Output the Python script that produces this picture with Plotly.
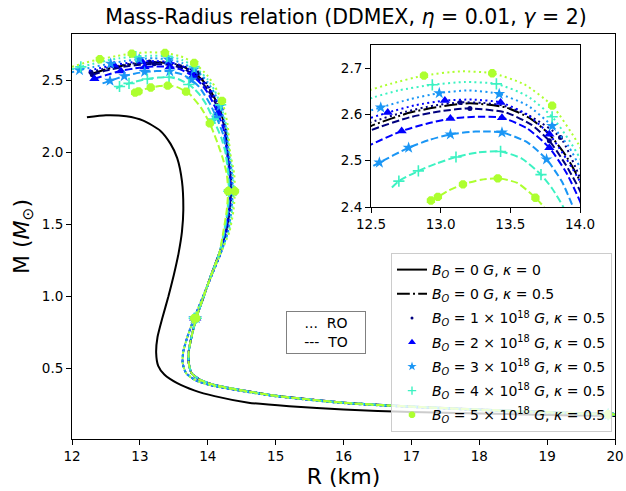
import plotly.graph_objects as go

# ---------------- data ----------------
# B_O = 0, kappa = 0 (black solid)
R_B0_k0 = [12.22, 12.50, 12.80, 13.05, 13.30, 13.45, 13.55, 13.62, 13.64, 13.62, 13.57, 13.50, 13.42,
           13.33, 13.26, 13.24, 13.27, 13.36, 13.55, 13.80, 14.10, 14.60, 15.20, 16.00, 17.00, 18.00,
           19.00, 20.00, 20.30]
M_B0_k0 = [2.243, 2.257, 2.250, 2.220, 2.150, 2.060, 1.960, 1.800, 1.600, 1.450, 1.300, 1.150, 1.000,
           0.850, 0.720, 0.610, 0.520, 0.460, 0.400, 0.350, 0.310, 0.265, 0.240, 0.217, 0.200, 0.190,
           0.180, 0.172, 0.170]

# B_O = 0, kappa = 0.5 (black dash-dot), upper part
R_B0_k05 = [12.31, 12.50, 12.78, 13.00, 13.21, 13.47, 13.65, 13.78, 13.90, 14.00, 14.09, 14.17, 14.26,
            14.29, 14.33, 14.34, 14.32, 14.27]
M_B0_k05 = [2.546, 2.575, 2.604, 2.617, 2.624, 2.615, 2.590, 2.557, 2.510, 2.456, 2.385, 2.305, 2.170,
            2.000, 1.850, 1.730, 1.600, 1.450]

# B_O = 1e18 (navy)
R_B1_RO = [12.28, 12.50, 12.75, 12.95, 13.14, 13.30, 13.45, 13.65, 13.86, 14.00, 14.09, 14.17, 14.26,
           14.30, 14.34, 14.35, 14.33, 14.28]
M_B1_RO = [2.555, 2.583, 2.606, 2.619, 2.626, 2.625, 2.619, 2.595, 2.550, 2.463, 2.390, 2.310, 2.170,
           2.000, 1.850, 1.730, 1.600, 1.450]
R_B1_TO = [12.30, 12.50, 12.78, 13.00, 13.21, 13.47, 13.65, 13.78, 13.90, 14.00, 14.08, 14.16, 14.25,
           14.29, 14.33, 14.34, 14.32, 14.27]
M_B1_TO = [2.538, 2.566, 2.594, 2.607, 2.613, 2.604, 2.578, 2.543, 2.490, 2.435, 2.370, 2.295, 2.170,
           2.000, 1.850, 1.730, 1.600, 1.450]

# B_O = 2e18 (blue)
R_B2_RO = [12.25, 12.40, 12.62, 12.82, 13.03, 13.23, 13.43, 13.62, 13.78, 13.90, 14.00, 14.09, 14.17,
           14.26, 14.30, 14.35, 14.36, 14.34, 14.29]
M_B2_RO = [2.565, 2.583, 2.604, 2.620, 2.630, 2.632, 2.626, 2.600, 2.557, 2.505, 2.455, 2.390, 2.310,
           2.170, 2.000, 1.850, 1.730, 1.600, 1.450]
R_B2_TO = [12.33, 12.50, 12.72, 12.90, 13.07, 13.25, 13.44, 13.62, 13.78, 13.90, 14.00, 14.07, 14.15,
           14.24, 14.28, 14.32, 14.33, 14.31, 14.26]
M_B2_TO = [2.510, 2.535, 2.564, 2.580, 2.591, 2.595, 2.593, 2.570, 2.528, 2.475, 2.412, 2.350, 2.270,
           2.150, 2.000, 1.850, 1.730, 1.600, 1.450]

# B_O = 3e18 (sky blue)
R_B3_RO = [12.00, 12.11, 12.30, 12.57, 12.78, 12.99, 13.20, 13.42, 13.62, 13.80, 13.92, 14.00, 14.10,
           14.18, 14.27, 14.31, 14.36, 14.37, 14.35, 14.30]
M_B3_RO = [2.555, 2.569, 2.590, 2.615, 2.633, 2.646, 2.652, 2.644, 2.620, 2.575, 2.530, 2.485, 2.410,
           2.320, 2.170, 2.000, 1.850, 1.730, 1.600, 1.450]
R_B3_TO = [12.45, 12.56, 12.77, 12.92, 13.07, 13.25, 13.44, 13.62, 13.76, 13.87, 13.95, 14.04, 14.13,
           14.23, 14.27, 14.31, 14.32, 14.30, 14.25]
M_B3_TO = [2.478, 2.496, 2.528, 2.545, 2.557, 2.563, 2.561, 2.540, 2.503, 2.455, 2.400, 2.330, 2.240,
           2.120, 2.000, 1.850, 1.730, 1.600, 1.450]

# B_O = 4e18 (aquamarine)
R_B4_RO = [12.00, 12.13, 12.30, 12.52, 12.70, 12.94, 13.17, 13.40, 13.62, 13.80, 13.92, 14.00, 14.10,
           14.19, 14.28, 14.32, 14.37, 14.38, 14.36, 14.31]
M_B4_RO = [2.575, 2.592, 2.612, 2.637, 2.652, 2.664, 2.670, 2.666, 2.640, 2.595, 2.545, 2.505, 2.430,
           2.330, 2.170, 2.000, 1.850, 1.730, 1.600, 1.450]
R_B4_TO = [12.65, 12.70, 12.84, 12.97, 13.11, 13.27, 13.43, 13.58, 13.72, 13.80, 13.88, 13.98, 14.08,
           14.20, 14.26, 14.30, 14.31, 14.29, 14.24]
M_B4_TO = [2.442, 2.456, 2.478, 2.494, 2.508, 2.518, 2.520, 2.505, 2.470, 2.440, 2.400, 2.330, 2.230,
           2.100, 2.000, 1.850, 1.730, 1.600, 1.450]

# B_O = 5e18 (green-yellow)
R_B5_RO = [12.00, 12.20, 12.41, 12.65, 12.88, 13.14, 13.37, 13.60, 13.80, 13.99, 14.10, 14.21, 14.29,
           14.33, 14.39, 14.40, 14.38, 14.32]
M_B5_RO = [2.592, 2.622, 2.645, 2.667, 2.684, 2.693, 2.689, 2.665, 2.619, 2.535, 2.460, 2.357, 2.200,
           2.000, 1.850, 1.730, 1.600, 1.450]
R_B5_TO = [12.93, 12.98, 13.06, 13.16, 13.29, 13.41, 13.55, 13.68, 13.74, 13.90, 14.03, 14.14, 14.22,
           14.28, 14.30, 14.28, 14.23]
M_B5_TO = [2.414, 2.422, 2.436, 2.449, 2.459, 2.462, 2.452, 2.420, 2.400, 2.310, 2.200, 2.070, 1.960,
           1.850, 1.730, 1.600, 1.450]

# lower branches shared by the RO and TO families
R_tail_RO = [14.19, 14.06, 13.93, 13.80, 13.70, 13.64, 13.63, 13.68, 13.82, 14.05, 14.45, 15.00, 16.00,
             17.00, 18.00, 19.00, 19.90, 20.30]
M_tail_RO = [1.300, 1.150, 1.000, 0.850, 0.720, 0.620, 0.540, 0.470, 0.420, 0.385, 0.350, 0.310, 0.262,
             0.235, 0.214, 0.196, 0.182, 0.176]
R_tail_TO = [14.17, 14.05, 13.94, 13.83, 13.76, 13.72, 13.72, 13.76, 13.88, 14.08, 14.45, 15.00, 16.00,
             17.00, 18.00, 19.00, 19.90, 20.30]
M_tail_TO = [1.300, 1.150, 1.000, 0.850, 0.720, 0.620, 0.540, 0.470, 0.425, 0.390, 0.355, 0.313, 0.265,
             0.238, 0.217, 0.199, 0.185, 0.179]
tail_marks = [3, 16]

# marker positions (indices into the upper parts)
marks = {
    "B1_RO": [0, 4, 8, 11, 15], "B1_TO": [0, 4, 7, 11, 15],
    "B2_RO": [2, 4, 6, 8, 12, 16], "B2_TO": [0, 2, 4, 6, 8, 12, 16],
    "B3_RO": [1, 3, 5, 7, 9, 13, 17], "B3_TO": [1, 2, 4, 6, 8, 12, 16],
    "B4_RO": [1, 5, 7, 9, 13, 17], "B4_TO": [1, 2, 4, 6, 8, 12, 16],
    "B5_RO": [2, 4, 6, 8, 11, 15], "B5_TO": [0, 1, 3, 5, 7, 10, 14],
}

labels = [
    "<i>B<sub>O</sub></i> = 0 <i>G</i>, <i>κ</i> = 0",
    "<i>B<sub>O</sub></i> = 0 <i>G</i>, <i>κ</i> = 0.5",
    "<i>B<sub>O</sub></i> = 1 × 10<sup>18</sup> <i>G</i>, <i>κ</i> = 0.5",
    "<i>B<sub>O</sub></i> = 2 × 10<sup>18</sup> <i>G</i>, <i>κ</i> = 0.5",
    "<i>B<sub>O</sub></i> = 3 × 10<sup>18</sup> <i>G</i>, <i>κ</i> = 0.5",
    "<i>B<sub>O</sub></i> = 4 × 10<sup>18</sup> <i>G</i>, <i>κ</i> = 0.5",
    "<i>B<sub>O</sub></i> = 5 × 10<sup>18</sup> <i>G</i>, <i>κ</i> = 0.5",
]

colors = ["#00007f", "#0000ff", "#1a96f5", "#3cf2c2", "#adff2f"]
symbols = ["circle", "triangle-up", "star", "cross-thin", "octagon"]
msizes = [5, 9, 9, 8, 9]

series = [
    (R_B1_RO, M_B1_RO, R_B1_TO, M_B1_TO, "B1"),
    (R_B2_RO, M_B2_RO, R_B2_TO, M_B2_TO, "B2"),
    (R_B3_RO, M_B3_RO, R_B3_TO, M_B3_TO, "B3"),
    (R_B4_RO, M_B4_RO, R_B4_TO, M_B4_TO, "B4"),
    (R_B5_RO, M_B5_RO, R_B5_TO, M_B5_TO, "B5"),
]

# ---------------- figure ----------------
W, H = 626, 491
ML, MR, MT, MB = 72, 11, 34, 52
PW, PH = W - ML - MR, H - MT - MB

DOT = "2px,3.3px"
DASH = "7.4px,3.2px"
DASHDOT = "12.8px,3.2px,2px,3.2px"

fig = go.Figure()
axes = [("x", "y"), ("x2", "y2")]


def add_line(x, y, color, dash, name=None, showlegend=False, width=2, group=None):
    for i, (xa, ya) in enumerate(axes):
        fig.add_trace(go.Scatter(
            x=x, y=y, mode="lines", xaxis=xa, yaxis=ya,
            line=dict(color=color, width=width, dash=dash, shape="spline", smoothing=0.6),
            name=name, showlegend=(showlegend and i == 0), legendgroup=group, hoverinfo="skip"))


def add_marks(x, y, idx, color, symbol, size):
    xs = [x[i] for i in idx]
    ys = [y[i] for i in idx]
    thin = symbol == "cross-thin"
    for xa, ya in axes:
        fig.add_trace(go.Scatter(
            x=xs, y=ys, mode="markers", xaxis=xa, yaxis=ya, showlegend=False,
            marker=dict(color=color, symbol=symbol, size=size,
                        line=dict(color=color, width=1.6 if thin else 0)),
            hoverinfo="skip"))


# black curves
add_line(R_B0_k0, M_B0_k0, "black", "solid", labels[0], True, group="g0")
add_line(R_B0_k05 + R_tail_TO, M_B0_k05 + M_tail_TO, "black", DASHDOT, labels[1], True, group="g1")

for k, (rr, mr, rt, mt, key) in enumerate(series):
    c = colors[k]
    xro, yro = rr + R_tail_RO, mr + M_tail_RO
    xto, yto = rt + R_tail_TO, mt + M_tail_TO
    add_line(xro, yro, c, DOT)
    add_line(xto, yto, c, DASH)
    idx_ro = marks[key + "_RO"] + [len(rr) + j for j in tail_marks]
    idx_to = marks[key + "_TO"] + [len(rt) + j for j in tail_marks]
    add_marks(xro, yro, idx_ro, c, symbols[k], msizes[k])
    add_marks(xto, yto, idx_to, c, symbols[k], msizes[k])

# legend-only marker entries
for k in range(5):
    thin = symbols[k] == "cross-thin"
    fig.add_trace(go.Scatter(
        x=[None], y=[None], mode="markers", name=labels[k + 2], legendgroup="g%d" % (k + 2),
        marker=dict(color=colors[k], symbol=symbols[k], size=msizes[k] - 2,
                    line=dict(color=colors[k], width=1.4 if thin else 0))))

FONT = "DejaVu Sans"
axis_common = dict(showline=True, linecolor="black", linewidth=1, mirror=True,
                   ticks="outside", ticklen=5, tickwidth=1, tickcolor="black",
                   showgrid=False, zeroline=False, automargin=False,
                   tickfont=dict(family=FONT, size=13.5, color="black"))

ix0, ix1 = (371 - ML) / PW, (580 - ML) / PW
iy0, iy1 = (H - MB - 207) / PH, (H - MB - 45) / PH

fig.update_layout(
    width=W, height=H,
    margin=dict(l=ML, r=MR, t=MT, b=MB, pad=0, autoexpand=False),
    paper_bgcolor="white", plot_bgcolor="white",
    font=dict(family=FONT, color="black"),
    title=dict(text="Mass-Radius relation (DDMEX, <i>η</i> = 0.01, <i>γ</i> = 2)",
               x=346 / W, xanchor="center", y=1 - 17 / H, yanchor="middle",
               font=dict(family=FONT, size=20.5, color="black")),
    xaxis=dict(domain=[0, 1], range=[12, 20], tickvals=[12, 13, 14, 15, 16, 17, 18, 19, 20],
               title=dict(text="R (km)", font=dict(family=FONT, size=22), standoff=3),
               **axis_common),
    yaxis=dict(domain=[0, 1], range=[0.013, 2.82], tickvals=[0.5, 1.0, 1.5, 2.0, 2.5],
               ticktext=["0.5", "1.0", "1.5", "2.0", "2.5"],
               title=dict(text="M (<i>M</i><sub>⊙</sub>)", font=dict(family=FONT, size=22), standoff=6),
               **axis_common),
    xaxis2=dict(domain=[ix0, ix1], anchor="y2", range=[12.5, 14.0],
                tickvals=[12.5, 13.0, 13.5, 14.0], ticktext=["12.5", "13.0", "13.5", "14.0"],
                **axis_common),
    yaxis2=dict(domain=[iy0, iy1], anchor="x2", range=[2.4, 2.75],
                tickvals=[2.4, 2.5, 2.6, 2.7], ticktext=["2.4", "2.5", "2.6", "2.7"],
                **axis_common),
    legend=dict(x=(612 - ML) / PW, xanchor="right", y=(H - MB - 432) / PH, yanchor="bottom",
                bgcolor="rgba(255,255,255,0.8)", bordercolor="#cccccc", borderwidth=1,
                font=dict(family=FONT, size=14, color="black"), tracegroupgap=3,
                itemwidth=30),
    annotations=[dict(
        text="...  RO<br>---  TO", x=(325.5 - ML) / PW, y=(H - MB - 332) / PH,
        xref="paper", yref="paper", xanchor="center", yanchor="middle", showarrow=False,
        align="center", width=70, height=33, font=dict(family=FONT, size=14, color="black"),
        bordercolor="#808080", borderwidth=1, borderpad=4, bgcolor="white")],
)

fig.write_html("out.html", config={"responsive": False, "displayModeBar": False},
               post_script="document.body.style.margin='0';document.body.style.overflow='hidden';")
